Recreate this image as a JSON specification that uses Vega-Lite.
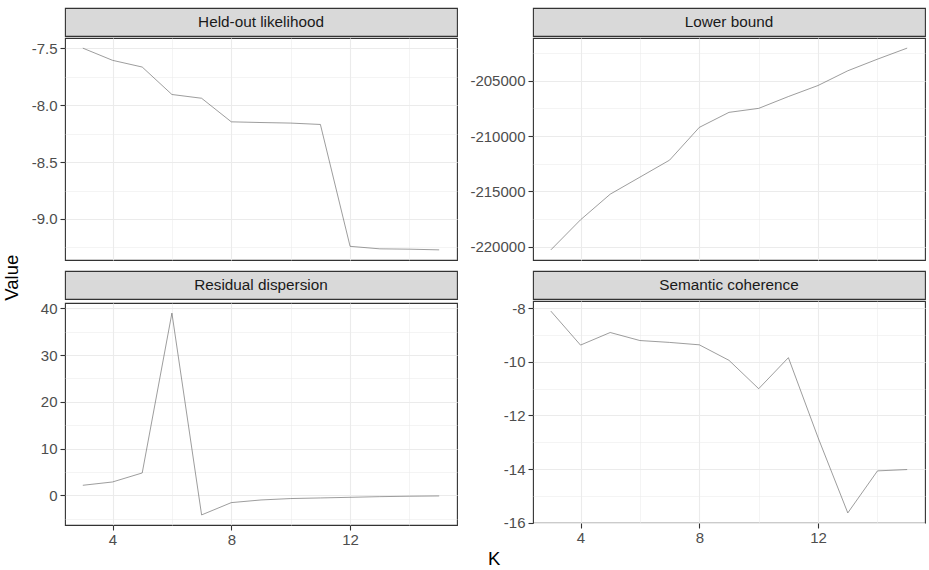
{
  "$schema": "https://vega.github.io/schema/vega-lite/v6.json",
  "padding": {"left": 3, "top": 7, "right": 2, "bottom": 2},
  "datasets": {
    "d": [
      {"metric": "Held-out likelihood", "K": 3, "value": -7.50},
      {"metric": "Held-out likelihood", "K": 4, "value": -7.607},
      {"metric": "Held-out likelihood", "K": 5, "value": -7.666},
      {"metric": "Held-out likelihood", "K": 6, "value": -7.907},
      {"metric": "Held-out likelihood", "K": 7, "value": -7.94},
      {"metric": "Held-out likelihood", "K": 8, "value": -8.147},
      {"metric": "Held-out likelihood", "K": 9, "value": -8.153},
      {"metric": "Held-out likelihood", "K": 10, "value": -8.158},
      {"metric": "Held-out likelihood", "K": 11, "value": -8.17},
      {"metric": "Held-out likelihood", "K": 12, "value": -9.24},
      {"metric": "Held-out likelihood", "K": 13, "value": -9.262},
      {"metric": "Held-out likelihood", "K": 14, "value": -9.265},
      {"metric": "Held-out likelihood", "K": 15, "value": -9.271},
      {"metric": "Lower bound", "K": 3, "value": -220300},
      {"metric": "Lower bound", "K": 4, "value": -217580},
      {"metric": "Lower bound", "K": 5, "value": -215260},
      {"metric": "Lower bound", "K": 6, "value": -213720},
      {"metric": "Lower bound", "K": 7, "value": -212180},
      {"metric": "Lower bound", "K": 8, "value": -209220},
      {"metric": "Lower bound", "K": 9, "value": -207860},
      {"metric": "Lower bound", "K": 10, "value": -207500},
      {"metric": "Lower bound", "K": 11, "value": -206430},
      {"metric": "Lower bound", "K": 12, "value": -205430},
      {"metric": "Lower bound", "K": 13, "value": -204100},
      {"metric": "Lower bound", "K": 14, "value": -203050},
      {"metric": "Lower bound", "K": 15, "value": -202050},
      {"metric": "Residual dispersion", "K": 3, "value": 2.14},
      {"metric": "Residual dispersion", "K": 4, "value": 2.85},
      {"metric": "Residual dispersion", "K": 5, "value": 4.78},
      {"metric": "Residual dispersion", "K": 6, "value": 39.0},
      {"metric": "Residual dispersion", "K": 7, "value": -4.2},
      {"metric": "Residual dispersion", "K": 8, "value": -1.57},
      {"metric": "Residual dispersion", "K": 9, "value": -1.0},
      {"metric": "Residual dispersion", "K": 10, "value": -0.7},
      {"metric": "Residual dispersion", "K": 11, "value": -0.57},
      {"metric": "Residual dispersion", "K": 12, "value": -0.43},
      {"metric": "Residual dispersion", "K": 13, "value": -0.29},
      {"metric": "Residual dispersion", "K": 14, "value": -0.2},
      {"metric": "Residual dispersion", "K": 15, "value": -0.14},
      {"metric": "Semantic coherence", "K": 3, "value": -8.10},
      {"metric": "Semantic coherence", "K": 4, "value": -9.37},
      {"metric": "Semantic coherence", "K": 5, "value": -8.90},
      {"metric": "Semantic coherence", "K": 6, "value": -9.20},
      {"metric": "Semantic coherence", "K": 7, "value": -9.27},
      {"metric": "Semantic coherence", "K": 8, "value": -9.36},
      {"metric": "Semantic coherence", "K": 9, "value": -9.94},
      {"metric": "Semantic coherence", "K": 10, "value": -11.0},
      {"metric": "Semantic coherence", "K": 11, "value": -9.84},
      {"metric": "Semantic coherence", "K": 12, "value": -12.83},
      {"metric": "Semantic coherence", "K": 13, "value": -15.64},
      {"metric": "Semantic coherence", "K": 14, "value": -14.07},
      {"metric": "Semantic coherence", "K": 15, "value": -14.02}
    ]
  },
  "data": {"name": "d"},
  "title": {"text": "Value", "orient": "left", "anchor": "middle", "fontSize": 18.5, "fontWeight": "normal", "color": "#000000", "font": "Liberation Sans", "offset": 9, "dx": 10},
  "vconcat": [
    {
      "title": {"text": "K", "orient": "bottom", "anchor": "middle", "fontSize": 18.5, "fontWeight": "normal", "color": "#000000", "font": "Liberation Sans", "offset": 2, "dx": 16},
      "columns": 2,
      "spacing": {"row": 9, "column": 11},
      "concat": [
        {
          "spacing": 0,
          "vconcat": [
            {
              "width": 392, "height": 28,
              "view": {"fill": "#D9D9D9", "stroke": "#333333", "strokeWidth": 1.1},
              "transform": [{"filter": "datum.metric == 'Held-out likelihood'"}, {"aggregate": [{"op": "count", "as": "n"}], "groupby": ["metric"]}],
              "mark": {"type": "text", "fontSize": 15.3, "color": "#1A1A1A", "font": "Liberation Sans", "baseline": "middle"},
              "encoding": {"text": {"field": "metric"}}
            },
            {
              "width": 392, "height": 222,
              "transform": [{"filter": "datum.metric == 'Held-out likelihood'"}],
              "mark": {"type": "line", "color": "#5A5A5A", "strokeWidth": 0.6},
              "encoding": {
                "x": {"field": "K", "type": "quantitative", "scale": {"domain": [2.4, 15.6], "nice": false, "zero": false},
                  "axis": {"title": null, "values": [4, 6, 8, 10, 12, 14], "labels": false, "ticks": false,
                    "gridWidth": {"condition": {"test": "datum.value % 4 == 0", "value": 1.1}, "value": 0.55}}},
                "y": {"field": "value", "type": "quantitative", "scale": {"domain": [-9.36, -7.411], "nice": false, "zero": false},
                  "axis": {"title": null, "values": [-9.25, -9, -8.75, -8.5, -8.25, -8, -7.75, -7.5],
                    "labelExpr": "abs(datum.value*2 - round(datum.value*2)) < 1e-6 ? (datum.value < 0 ? '-' : '') + format(abs(datum.value), '.1f') : ''",
                    "tickOpacity": {"condition": {"test": "abs(datum.value*2 - round(datum.value*2)) < 1e-6", "value": 1}, "value": 0},
                    "gridWidth": {"condition": {"test": "abs(datum.value*2 - round(datum.value*2)) < 1e-6", "value": 1.1}, "value": 0.55}}}
              }
            }
          ]
        },
        {
          "spacing": 0,
          "vconcat": [
            {
              "width": 392, "height": 28,
              "view": {"fill": "#D9D9D9", "stroke": "#333333", "strokeWidth": 1.1},
              "transform": [{"filter": "datum.metric == 'Lower bound'"}, {"aggregate": [{"op": "count", "as": "n"}], "groupby": ["metric"]}],
              "mark": {"type": "text", "fontSize": 15.3, "color": "#1A1A1A", "font": "Liberation Sans", "baseline": "middle"},
              "encoding": {"text": {"field": "metric"}}
            },
            {
              "width": 392, "height": 222,
              "transform": [{"filter": "datum.metric == 'Lower bound'"}],
              "mark": {"type": "line", "color": "#5A5A5A", "strokeWidth": 0.6},
              "encoding": {
                "x": {"field": "K", "type": "quantitative", "scale": {"domain": [2.4, 15.6], "nice": false, "zero": false},
                  "axis": {"title": null, "values": [4, 6, 8, 10, 12, 14], "labels": false, "ticks": false,
                    "gridWidth": {"condition": {"test": "datum.value % 4 == 0", "value": 1.1}, "value": 0.55}}},
                "y": {"field": "value", "type": "quantitative", "scale": {"domain": [-221212, -201137], "nice": false, "zero": false},
                  "axis": {"title": null, "values": [-220000, -217500, -215000, -212500, -210000, -207500, -205000, -202500],
                    "labelExpr": "datum.value % 5000 == 0 ? (datum.value < 0 ? '-' : '') + format(abs(datum.value), 'd') : ''",
                    "tickOpacity": {"condition": {"test": "datum.value % 5000 == 0", "value": 1}, "value": 0},
                    "gridWidth": {"condition": {"test": "datum.value % 5000 == 0", "value": 1.1}, "value": 0.55}}}
              }
            }
          ]
        },
        {
          "spacing": 0,
          "vconcat": [
            {
              "width": 392, "height": 28,
              "view": {"fill": "#D9D9D9", "stroke": "#333333", "strokeWidth": 1.1},
              "transform": [{"filter": "datum.metric == 'Residual dispersion'"}, {"aggregate": [{"op": "count", "as": "n"}], "groupby": ["metric"]}],
              "mark": {"type": "text", "fontSize": 15.3, "color": "#1A1A1A", "font": "Liberation Sans", "baseline": "middle"},
              "encoding": {"text": {"field": "metric"}}
            },
            {
              "width": 392, "height": 222,
              "transform": [{"filter": "datum.metric == 'Residual dispersion'"}],
              "mark": {"type": "line", "color": "#5A5A5A", "strokeWidth": 0.6},
              "encoding": {
                "x": {"field": "K", "type": "quantitative", "scale": {"domain": [2.4, 15.6], "nice": false, "zero": false},
                  "axis": {"title": null, "values": [4, 6, 8, 10, 12, 14], "labelOverlap": false, "labelFlush": false, "labelPadding": 2,
                    "labelExpr": "datum.value % 4 == 0 ? format(datum.value, 'd') : ''",
                    "tickOpacity": {"condition": {"test": "datum.value % 4 == 0", "value": 1}, "value": 0},
                    "gridWidth": {"condition": {"test": "datum.value % 4 == 0", "value": 1.1}, "value": 0.55}}},
                "y": {"field": "value", "type": "quantitative", "scale": {"domain": [-6.36, 41.16], "nice": false, "zero": false},
                  "axis": {"title": null, "values": [-5, 0, 5, 10, 15, 20, 25, 30, 35, 40],
                    "labelExpr": "datum.value % 10 == 0 ? (datum.value < 0 ? '-' : '') + format(abs(datum.value), 'd') : ''",
                    "tickOpacity": {"condition": {"test": "datum.value % 10 == 0", "value": 1}, "value": 0},
                    "gridWidth": {"condition": {"test": "datum.value % 10 == 0", "value": 1.1}, "value": 0.55}}}
              }
            }
          ]
        },
        {
          "spacing": 0,
          "vconcat": [
            {
              "width": 392, "height": 28,
              "view": {"fill": "#D9D9D9", "stroke": "#333333", "strokeWidth": 1.1},
              "transform": [{"filter": "datum.metric == 'Semantic coherence'"}, {"aggregate": [{"op": "count", "as": "n"}], "groupby": ["metric"]}],
              "mark": {"type": "text", "fontSize": 15.3, "color": "#1A1A1A", "font": "Liberation Sans", "baseline": "middle"},
              "encoding": {"text": {"field": "metric"}}
            },
            {
              "width": 392, "height": 222,
              "transform": [{"filter": "datum.metric == 'Semantic coherence'"}],
              "mark": {"type": "line", "color": "#5A5A5A", "strokeWidth": 0.6},
              "encoding": {
                "x": {"field": "K", "type": "quantitative", "scale": {"domain": [2.4, 15.6], "nice": false, "zero": false},
                  "axis": {"title": null, "values": [4, 6, 8, 10, 12, 14], "labelOverlap": false, "labelFlush": false, "labelPadding": 2,
                    "labelExpr": "datum.value % 4 == 0 ? format(datum.value, 'd') : ''",
                    "tickOpacity": {"condition": {"test": "datum.value % 4 == 0", "value": 1}, "value": 0},
                    "gridWidth": {"condition": {"test": "datum.value % 4 == 0", "value": 1.1}, "value": 0.55}}},
                "y": {"field": "value", "type": "quantitative", "scale": {"domain": [-16.017, -7.723], "nice": false, "zero": false},
                  "axis": {"title": null, "values": [-16, -15, -14, -13, -12, -11, -10, -9, -8],
                    "labelExpr": "datum.value % 2 == 0 ? (datum.value < 0 ? '-' : '') + format(abs(datum.value), 'd') : ''",
                    "tickOpacity": {"condition": {"test": "datum.value % 2 == 0", "value": 1}, "value": 0},
                    "gridWidth": {"condition": {"test": "datum.value % 2 == 0", "value": 1.1}, "value": 0.55}}}
              }
            }
          ]
        }
      ]
    }
  ],
  "config": {
    "font": "Liberation Sans",
    "view": {"stroke": "#333333", "strokeWidth": 1.1},
    "axis": {
      "domain": false,
      "labelFont": "Liberation Sans",
      "labelFontSize": 15,
      "labelColor": "#4D4D4D",
      "tickColor": "#333333",
      "tickSize": 5,
      "tickWidth": 1.1,
      "labelPadding": 3,
      "gridColor": "#EBEBEB",
      "labelOverlap": false,
      "labelBound": false
    },
    "axisY": {"labelFlush": false}
  }
}
